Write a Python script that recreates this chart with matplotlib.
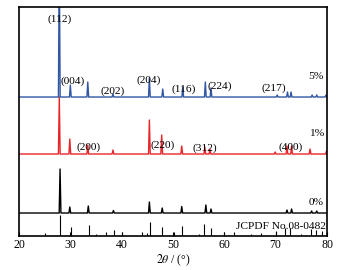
import matplotlib
matplotlib.use("Agg")
import matplotlib.pyplot as plt
import numpy as np

# peak positions (2theta) and heights
pos_5 = [27.85, 30.0, 33.4, 38.3, 45.4, 48.0, 51.9, 56.3, 57.4, 70.3, 72.3, 73.0, 77.1, 78.0, 79.8]
hgt_5 = [140, 12, 15, 3, 19, 8, 10, 15, 9, 2, 5, 5, 2, 2, 2]

pos_1 = [27.85, 29.9, 33.4, 38.3, 45.4, 47.8, 51.7, 56.2, 57.2, 69.9, 72.2, 73.1, 76.7, 79.9]
hgt_1 = [57, 15, 9, 4, 34, 19, 8, 7, 5, 2, 8, 8, 5, 3]

pos_0 = [28.0, 29.9, 33.5, 38.4, 45.4, 47.9, 51.7, 56.4, 57.4, 72.2, 73.1, 77.0, 78.0]
hgt_0 = [44, 6, 7, 2.5, 11, 5, 6.5, 8, 4, 3, 4, 2, 2]

# JCPDF 08-0482 reference sticks
pdf_pos = [25.1, 28.0, 30.1, 33.6, 35.0, 36.9, 38.5, 40.0, 44.0, 44.9, 45.5, 47.9,
           50.1, 51.8, 55.1, 56.1, 57.4, 60.0, 61.9, 65.1, 67.1, 70.0, 71.8, 72.8,
           74.9, 76.9, 77.9, 79.0]
pdf_hgt = [3, 21, 9, 11, 2, 4, 6, 4, 4, 3, 14, 9, 4, 10, 2, 12, 8, 4, 4, 2.5, 3, 5,
           8, 8, 2, 7, 6, 5]

offsets = {"5%": 139, "1%": 82, "0%": 23}

labels_5 = [("(112)", 28.0, 217), ("(004)", 30.5, 155), ("(202)", 38.3, 145),
            ("(204)", 45.3, 156), ("(116)", 52.1, 147), ("(224)", 59.2, 150),
            ("(217)", 69.7, 148)]
labels_1 = [("(200)", 33.6, 89), ("(220)", 47.9, 91), ("(312)", 56.2, 88),
            ("(400)", 72.9, 89)]


def spikes(pos, hgt, base, w=0.17):
    xs = [20.0]
    ys = [base]
    for p, h in zip(pos, hgt):
        xs += [p - w, p, p + w]
        ys += [base, base + h, base]
    xs.append(80.0)
    ys.append(base)
    return np.array(xs), np.array(ys)


plt.rcParams['font.family'] = ['Liberation Serif', 'DejaVu Serif']
plt.rcParams['mathtext.fontset'] = 'stix'

fig = plt.figure(figsize=(3.44, 2.70), dpi=100)
ax = fig.add_axes([0.0552, 0.1259, 0.8954, 0.8481])

x, y = spikes(pos_0, hgt_0, offsets["0%"])
ax.plot(x, y, color='black', lw=1.0)
x, y = spikes(pos_1, hgt_1, offsets["1%"])
ax.plot(x, y, color='#e8262a', lw=1.0)
x, y = spikes(pos_5, hgt_5, offsets["5%"])
ax.plot(x, y, color='#3156a3', lw=1.0)

ax.vlines(pdf_pos, 0, pdf_hgt, color='black', lw=0.8)

fs = 8.2
for t, xx, yy in labels_5 + labels_1:
    ax.text(xx, yy, t, ha='center', va='center', fontsize=fs)
ax.text(79.4, 160, "5%", ha='right', va='center', fontsize=fs)
ax.text(79.4, 103, "1%", ha='right', va='center', fontsize=fs)
ax.text(79.4, 34, "0%", ha='right', va='center', fontsize=fs)
ax.text(79.7, 10, "JCPDF No.08-0482", ha='right', va='center', fontsize=fs)

ax.set_xlim(20, 80)
ax.set_ylim(0, 229)
ax.set_xticks(np.arange(20, 81, 10))
ax.set_yticks([])
ax.tick_params(axis='x', direction='in', length=3, labelsize=fs + 0.3, pad=2)
for s in ax.spines.values():
    s.set_linewidth(1.2)
ax.set_xlabel(r"$2\theta$ / (°)", fontsize=fs + 0.3, labelpad=1)

fig.savefig("out.png", dpi=100)
